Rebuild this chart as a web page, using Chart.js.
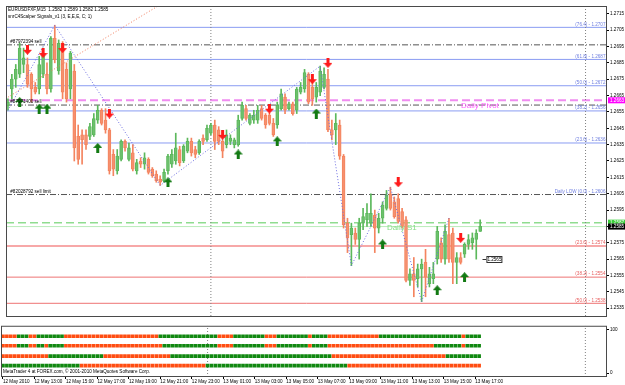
<!DOCTYPE html>
<html>
<head>
<meta charset="utf-8">
<script src="https://cdn.jsdelivr.net/npm/chart.js@4.4.1/dist/chart.umd.min.js"></script>
<style>
  html, body { margin: 0; padding: 0; background: #fff; }
  #wrap { position: relative; width: 625px; height: 385px; overflow: hidden; }
  canvas { position: absolute; left: 0; }
  #main { top: 0; }
  #sub { top: 322px; }
</style>
</head>
<body>
<div id="wrap">
  <canvas id="main" width="625" height="322"></canvas>
  <canvas id="sub" width="625" height="63"></canvas>
</div>
<script>
// EURUSD M15, bars from 12 May 11:00
const openP  = [1.2659,1.2669,1.2675,1.2678,1.2684,1.2684,1.2678,1.2670,1.2669,1.2678,1.2678,1.2669,1.2700,1.2680,1.2697,1.2681,1.2669,1.2680,1.2640,1.2641,
                1.2641,1.2640,1.2641,1.2650,1.2656,1.2650,1.2644,1.2629,1.2619,1.2626,1.2637,1.2626,1.2630,1.2619,1.2625,1.2623,1.2626,1.2620,1.2617,1.2614,
                1.2613,1.2619,1.2623,1.2625,1.2632,1.2625,1.2631,1.2637,1.2632,1.2630,1.2639,1.2638,1.2642,1.2647,1.2644,1.2637,1.2635,1.2637,1.2635,1.2635,
                1.2651,1.2657,1.2648,1.2650,1.2650,1.2657,1.2653,1.2653,1.2648,1.2647,1.2657,1.2664,1.2657,1.2660,1.2656,1.2667,1.2669,1.2678,1.2670,1.2664,
                1.2667,1.2670,1.2675,1.2644,1.2644,1.2647,1.2628,1.2587,1.2580,1.2581,1.2577,1.2587,1.2589,1.2587,1.2592,1.2584,1.2590,1.2596,1.2605,1.2600,
                1.2602,1.2594,1.2589,1.2552,1.2556,1.2553,1.2559,1.2563,1.2550,1.2553,1.2565,1.2575,1.2565,1.2580,1.2581,1.2563,1.2566,1.2568,1.2574,1.2575,
                1.2577,1.2582];
const highP  = [1.2663,1.2678,1.2684,1.2697,1.2694,1.2688,1.2679,1.2673,1.2689,1.2694,1.2685,1.2701,1.2708,1.2699,1.2698,1.2685,1.2692,1.2684,1.2647,1.2644,
                1.2644,1.2648,1.2654,1.2659,1.2657,1.2657,1.2645,1.2632,1.2632,1.2638,1.2638,1.2636,1.2635,1.2626,1.2627,1.2630,1.2627,1.2621,1.2619,1.2616,
                1.2620,1.2629,1.2632,1.2642,1.2634,1.2635,1.2639,1.2639,1.2634,1.2638,1.2641,1.2647,1.2648,1.2650,1.2646,1.2638,1.2644,1.2641,1.2639,1.2653,
                1.2661,1.2659,1.2654,1.2656,1.2659,1.2659,1.2654,1.2654,1.2651,1.2661,1.2669,1.2666,1.2661,1.2661,1.2670,1.2673,1.2681,1.2679,1.2673,1.2673,
                1.2683,1.2682,1.2681,1.2650,1.2654,1.2650,1.2629,1.2590,1.2587,1.2584,1.2590,1.2596,1.2599,1.2605,1.2595,1.2593,1.2600,1.2607,1.2609,1.2603,
                1.2605,1.2596,1.2591,1.2559,1.2566,1.2562,1.2565,1.2571,1.2560,1.2563,1.2585,1.2578,1.2586,1.2590,1.2584,1.2569,1.2569,1.2575,1.2580,1.2581,
                1.2583,1.2589];
const lowP   = [1.2656,1.2663,1.2670,1.2676,1.2679,1.2670,1.2661,1.2666,1.2666,1.2676,1.2666,1.2667,1.2685,1.2678,1.2663,1.2661,1.2663,1.2625,1.2623,1.2623,
                1.2632,1.2638,1.2640,1.2648,1.2647,1.2642,1.2617,1.2616,1.2617,1.2625,1.2631,1.2625,1.2619,1.2617,1.2621,1.2620,1.2617,1.2615,1.2612,1.2610,
                1.2612,1.2617,1.2621,1.2623,1.2622,1.2624,1.2630,1.2628,1.2627,1.2629,1.2635,1.2637,1.2641,1.2632,1.2635,1.2627,1.2633,1.2635,1.2633,1.2634,
                1.2650,1.2650,1.2647,1.2648,1.2648,1.2650,1.2645,1.2647,1.2640,1.2645,1.2656,1.2654,1.2656,1.2653,1.2654,1.2666,1.2667,1.2660,1.2659,1.2661,
                1.2665,1.2669,1.2643,1.2638,1.2635,1.2626,1.2584,1.2569,1.2561,1.2574,1.2565,1.2583,1.2585,1.2585,1.2569,1.2581,1.2587,1.2595,1.2595,1.2590,
                1.2587,1.2584,1.2551,1.2549,1.2542,1.2548,1.2539,1.2542,1.2548,1.2550,1.2562,1.2563,1.2562,1.2563,1.2550,1.2550,1.2562,1.2566,1.2571,1.2571,
                1.2565,1.2582];
const closeP = [1.2661,1.2675,1.2681,1.2694,1.2688,1.2672,1.2669,1.2667,1.2684,1.2691,1.2669,1.2700,1.2687,1.2697,1.2667,1.2663,1.2691,1.2633,1.2626,1.2638,
                1.2635,1.2646,1.2651,1.2656,1.2648,1.2644,1.2619,1.2620,1.2628,1.2637,1.2633,1.2633,1.2620,1.2624,1.2623,1.2627,1.2618,1.2616,1.2613,1.2612,
                1.2618,1.2628,1.2629,1.2633,1.2624,1.2634,1.2637,1.2630,1.2629,1.2637,1.2637,1.2645,1.2647,1.2637,1.2637,1.2631,1.2641,1.2639,1.2638,1.2650,
                1.2659,1.2651,1.2653,1.2653,1.2656,1.2651,1.2647,1.2648,1.2641,1.2659,1.2666,1.2656,1.2660,1.2654,1.2669,1.2670,1.2679,1.2661,1.2663,1.2670,
                1.2680,1.2678,1.2644,1.2641,1.2648,1.2628,1.2586,1.2578,1.2584,1.2577,1.2587,1.2591,1.2593,1.2593,1.2584,1.2590,1.2598,1.2604,1.2596,1.2591,
                1.2588,1.2585,1.2552,1.2556,1.2552,1.2559,1.2562,1.2554,1.2556,1.2556,1.2582,1.2565,1.2582,1.2565,1.2563,1.2566,1.2563,1.2574,1.2577,1.2578,
                1.2581,1.2585];

// signal arrows [bar, price]
const sellArrows = [[5,1.2693],[9,1.2691],[14,1.2694],[26,1.2654],[55,1.2641],[67,1.2657],[78,1.2675],[82,1.2685],[100,1.2612],[116,1.2578]];
const buyArrows  = [[3,1.2661],[8,1.2657],[10,1.2657],[23,1.2633],[41,1.2612],[59,1.2629],[69,1.2637],[79,1.2654],[96,1.2574],[110,1.2546],[117,1.2554]];

// zigzag turning points [bar, price]
const zigzag = [[0,1.2656],[12,1.2708],[39,1.2610],[80,1.2683],[88,1.2561],[98,1.2609],[106,1.2539],[113,1.2590]];
const trendLine = [[0,1.2664],[40,1.2722]];

// horizontal levels
const fiboUpper = [1.27067, 1.26871, 1.26710, 1.26556, 1.26360];
const fiboUpperText = ['(76.4) - 1.2707', '(61.8) - 1.2687', '(50.0) - 1.2672', '(38.2) - 1.2656', '(23.6) - 1.2636'];
const fiboLower = [1.25730, 1.25540, 1.25380];
const fiboLowerText = ['(23.6) - 1.2574', '(38.2) - 1.2554', '(50.0) - 1.2538'];
const orderLevels = [1.26960, 1.26592, 1.26045];
const orderText = ['#87972394 sell', '#87971400 sell', '#82028792 sell limit'];
const dailyLowText = 'Daily LOW (0.0) - 1.2606';
const pivotLevel = 1.26621;
const s1Level = 1.25873;
const bidLevel = 1.25849;
const markPrice = 1.2565;

const priceTicks = [1.2715,1.2705,1.2695,1.2685,1.2675,1.2665,1.2655,1.2645,1.2635,1.2625,1.2615,1.2605,1.2595,1.2585,1.2575,1.2565,1.2555,1.2545,1.2535];
const daySeparators = [52, 148];
const timeIdx = [0,8,16,24,32,40,48,56,64,72,80,88,96,104,112,120];
const timeLabels = ['12 May 2010','12 May 13:00','12 May 15:00','12 May 17:00','12 May 19:00','12 May 21:00','12 May 23:00','13 May 01:00',
                    '13 May 03:00','13 May 05:00','13 May 07:00','13 May 09:00','13 May 11:00','13 May 13:00','13 May 15:00','13 May 17:00'];

// indicator rows (run lengths, R = sell colour, G = buy colour)
const sigRows = [
  'R4 G3 R2 G7 R24 G15 R4 G8 R3 G8 R1 G4 R13 G21 R1 G4',
  'R4 G3 R2 G2 R1 G4 R25 G14 R4 G8 R3 G8 R1 G4 R27 G7 R1 G4',
  'R12 G14 R17 G41 R29 G9',
  'G20 R32 G36 R34'
];
const sigLevels = [84.8, 63, 39.1, 17.4];

const N_SLOTS = 154;
const X_MIN = -0.5, X_MAX = N_SLOTS - 0.5;
const P_MIN = 1.253024, P_MAX = 1.271975;
const FONT = '"Liberation Sans", Arial, sans-serif';
const SMALL = 4.6;

const UP_LINE = '#5cb85c', UP_FILL = 'rgba(140,210,140,0.35)';
const DN_LINE = '#f4845f', DN_FILL = 'rgba(250,170,140,0.35)';
const SIG_G = '#118811', SIG_R = '#ff4d12';

function makeArrow(color, down) {
  const c = document.createElement('canvas');
  c.width = 9; c.height = 10;
  const g = c.getContext('2d');
  g.fillStyle = color;
  g.beginPath();
  if (down) {
    g.moveTo(3, 0); g.lineTo(6, 0); g.lineTo(6, 5); g.lineTo(9, 5); g.lineTo(4.5, 10); g.lineTo(0, 5); g.lineTo(3, 5);
  } else {
    g.moveTo(4.5, 0); g.lineTo(9, 5); g.lineTo(6, 5); g.lineTo(6, 10); g.lineTo(3, 10); g.lineTo(3, 5); g.lineTo(0, 5);
  }
  g.closePath();
  g.fill();
  return c;
}

function hLine(p, color, width, dash, order) {
  return {
    type: 'line', data: [{x: X_MIN, y: p}, {x: X_MAX, y: p}],
    borderColor: color, borderWidth: width, borderDash: dash || [],
    pointRadius: 0, order: order || 20
  };
}

function vLine(k, lo, hi) {
  return {
    type: 'line', data: [{x: k, y: lo}, {x: k, y: hi}],
    borderColor: '#808080', borderWidth: 1, borderDash: [1, 2],
    pointRadius: 0, order: 19
  };
}

const isUp = openP.map((o, i) => closeP[i] >= o);

const datasets = [];
fiboUpper.forEach(p => datasets.push(hLine(p, '#8a9cf2', 1)));
orderLevels.forEach(p => datasets.push(hLine(p, '#555555', 1, [6, 2, 1, 2])));
datasets.push(hLine(pivotLevel, '#f08cf0', 2, [8, 4]));
datasets.push(hLine(s1Level, '#8fdc8f', 1.5, [8, 4]));
datasets.push(hLine(bidLevel, '#b9ecb9', 1));
datasets.push(hLine(fiboLower[0], '#f7a8a8', 2));
datasets.push(hLine(fiboLower[1], '#ee7373', 1));
datasets.push(hLine(fiboLower[2], '#ee7373', 1));
daySeparators.forEach(k => datasets.push(vLine(k, P_MIN, P_MAX)));

datasets.push({
  type: 'line', data: trendLine.map(([x, y]) => ({x, y})),
  borderColor: '#f07a5a', borderWidth: 1, borderDash: [1, 2], pointRadius: 0, order: 3
});
datasets.push({
  type: 'line', data: zigzag.map(([x, y]) => ({x, y})),
  borderColor: '#6b6be0', borderWidth: 1, borderDash: [1, 2], pointRadius: 0, order: 2
});

// wicks
datasets.push({
  type: 'bar', data: openP.map((_, i) => ({x: i, y: [lowP[i], highP[i]]})),
  backgroundColor: isUp.map(u => u ? UP_LINE : DN_LINE),
  barThickness: 1, grouped: false, order: 6
});
// bodies
datasets.push({
  type: 'bar', data: openP.map((o, i) => ({x: i, y: [o, closeP[i]]})),
  backgroundColor: isUp.map(u => u ? UP_FILL : DN_FILL),
  borderColor: isUp.map(u => u ? UP_LINE : DN_LINE),
  borderWidth: 1, borderSkipped: false,
  barThickness: 3, grouped: false, order: 5
});

const downImg = makeArrow('#ff1a1a', true);
const upImg = makeArrow('#137a13', false);
datasets.push({
  type: 'scatter', data: sellArrows.map(([x, y]) => ({x, y})),
  pointStyle: downImg, pointRadius: 5, order: 1
});
datasets.push({
  type: 'scatter', data: buyArrows.map(([x, y]) => ({x, y})),
  pointStyle: upImg, pointRadius: 5, order: 1
});

function drawText(ctx, text, x, y, color, size, align) {
  ctx.font = size + 'px ' + FONT;
  ctx.fillStyle = color;
  ctx.textAlign = align || 'left';
  ctx.textBaseline = 'middle';
  ctx.fillText(text, x, y);
}

const mainOverlay = {
  id: 'mainOverlay',
  afterDraw(chart) {
    const {ctx, chartArea: a, scales: {x, y}} = chart;
    ctx.save();
    ctx.strokeStyle = '#4a4a4a';
    ctx.lineWidth = 1;
    ctx.strokeRect(a.left + 0.5, a.top + 0.5, a.right - a.left - 1, a.bottom - a.top);

    drawText(ctx, 'EURUSDFXF,M15  1.2582 1.2589 1.2582 1.2585', a.left + 2, a.top + 4, '#000', SMALL);
    drawText(ctx, 'snrC4Scalper Signals_v1 (3, E,E,E, C; 1)', a.left + 2, a.top + 11, '#000', SMALL);

    const lx = x.getPixelForValue(0.6), rx = x.getPixelForValue(153.1);
    orderLevels.forEach((p, i) => drawText(ctx, orderText[i], lx, y.getPixelForValue(p) - 3, '#000', SMALL));
    fiboUpper.forEach((p, i) => drawText(ctx, fiboUpperText[i], rx, y.getPixelForValue(p) - 3, '#6f7fe0', SMALL, 'right'));
    drawText(ctx, dailyLowText, rx, y.getPixelForValue(orderLevels[2]) - 3, '#6f7fe0', SMALL, 'right');
    fiboLower.forEach((p, i) => drawText(ctx, fiboLowerText[i], rx, y.getPixelForValue(p) - 3, '#e86060', SMALL, 'right'));

    drawText(ctx, 'Daily Pivot', x.getPixelForValue(116.1), y.getPixelForValue(pivotLevel) + 5, '#ff5cff', 8);
    drawText(ctx, 'Daily S1', x.getPixelForValue(97.1), y.getPixelForValue(s1Level) + 5, '#86dd86', 8);

    // price mark label
    const my = Math.round(y.getPixelForValue(markPrice)) + 0.5;
    const mx0 = x.getPixelForValue(121.6), mx1 = x.getPixelForValue(122.6);
    ctx.strokeStyle = '#333';
    ctx.beginPath(); ctx.moveTo(mx0, my); ctx.lineTo(mx1, my); ctx.stroke();
    ctx.fillStyle = '#fff';
    ctx.fillRect(mx1, my - 3.5, 16, 7);
    ctx.strokeRect(mx1 + 0.5, my - 3, 15, 6);
    drawText(ctx, markPrice.toFixed(4), mx1 + 8, my, '#000', SMALL, 'center');

    // right axis price boxes
    const boxes = [[pivotLevel, '1.2663', '#ff00ff', '#fff'], [s1Level, '1.2587', '#3ccf3c', '#fff'], [bidLevel, '1.2585', '#000', '#fff']];
    boxes.forEach(([p, t, bg, fg]) => {
      const by = y.getPixelForValue(p);
      ctx.fillStyle = bg;
      ctx.fillRect(a.right + 1, by - 3, chart.width - a.right - 1, 6);
      drawText(ctx, t, a.right + 3, by, fg, SMALL);
    });
    ctx.restore();
  }
};

new Chart(document.getElementById('main'), {
  type: 'bar',
  data: {datasets},
  options: {
    responsive: false, animation: false, events: [],
    layout: {padding: {left: 1, top: 2, right: 0, bottom: 1}},
    plugins: {legend: {display: false}, tooltip: {enabled: false}},
    scales: {
      x: {type: 'linear', min: X_MIN, max: X_MAX, display: false, offset: false, grid: {offset: false}},
      y: {
        position: 'right', min: P_MIN, max: P_MAX,
        afterBuildTicks: s => { s.ticks = priceTicks.map(v => ({value: v})); },
        afterFit: s => { s.width = 18; },
        ticks: {font: {size: SMALL, family: FONT}, color: '#000', padding: 1, callback: v => v.toFixed(4)},
        grid: {drawOnChartArea: false, drawTicks: true, tickLength: 2, color: '#000'},
        border: {display: false}
      }
    }
  },
  plugins: [mainOverlay]
});

// indicator sub-window
function expandRuns(s) {
  const out = [];
  s.split(' ').forEach(r => { for (let i = 0; i < +r.slice(1); i++) out.push(r[0]); });
  return out;
}

const subSets = sigRows.map((row, r) => {
  const st = expandRuns(row);
  const lvl = sigLevels[r];
  return {
    type: 'bar', data: st.map((_, i) => ({x: i, y: [lvl - 3.3, lvl + 3.3]})),
    backgroundColor: st.map(c => c === 'G' ? SIG_G : SIG_R),
    barThickness: 3, grouped: false, order: 2
  };
});
daySeparators.forEach(k => subSets.push(vLine(k, -8.7, 108.7)));

const subOverlay = {
  id: 'subOverlay',
  afterDraw(chart) {
    const {ctx, chartArea: a} = chart;
    ctx.save();
    ctx.strokeStyle = '#4a4a4a';
    ctx.lineWidth = 1;
    ctx.strokeRect(a.left + 0.5, a.top + 0.5, a.right - a.left - 1, a.bottom - a.top - 1);
    drawText(ctx, 'MetaTrader 4 at FOREX.com, \u00a9 2001-2010 MetaQuotes Software Corp.', a.left + 2, a.bottom - 5, '#000', SMALL);
    ctx.restore();
  }
};

new Chart(document.getElementById('sub'), {
  type: 'bar',
  data: {datasets: subSets},
  options: {
    responsive: false, animation: false, events: [],
    layout: {padding: {left: 1, top: 1, right: 0, bottom: 0}},
    plugins: {legend: {display: false}, tooltip: {enabled: false}},
    scales: {
      x: {
        type: 'linear', min: X_MIN, max: X_MAX, offset: false, position: 'bottom',
        afterBuildTicks: s => { s.ticks = timeIdx.map(v => ({value: v})); },
        afterFit: s => { s.height = 8; },
        ticks: {autoSkip: false, maxRotation: 0, align: 'start', padding: 0, font: {size: SMALL, family: FONT}, color: '#000',
                callback: (v, i) => timeLabels[i]},
        grid: {offset: false, drawOnChartArea: false, drawTicks: true, tickLength: 2, color: '#000'},
        border: {display: false}
      },
      y: {
        position: 'right', min: -8.7, max: 108.7,
        afterBuildTicks: s => { s.ticks = [{value: 100}, {value: 0}]; },
        afterFit: s => { s.width = 18; },
        ticks: {font: {size: SMALL, family: FONT}, color: '#000', padding: 1, callback: v => String(v)},
        grid: {drawOnChartArea: false, drawTicks: true, tickLength: 2, color: '#000'},
        border: {display: false}
      }
    }
  },
  plugins: [subOverlay]
});
</script>
</body>
</html>
